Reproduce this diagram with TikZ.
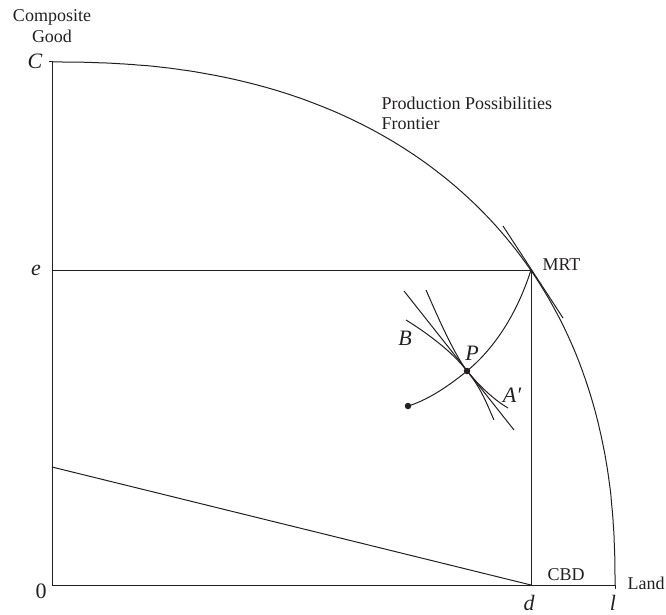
\documentclass[tikz,border=0pt]{standalone}
\usepackage{fontspec}
\setmainfont{Liberation Serif}
\definecolor{ink}{RGB}{35,31,32}
\begin{document}
\begin{tikzpicture}[x=1pt,y=-1pt,
  every path/.style={draw=ink, line width=1pt},
  lbl/.style={font=\fontsize{18}{20}\selectfont, inner sep=0pt, text=ink},
  mlbl/.style={font=\fontsize{22}{24}\selectfont\itshape, inner sep=0pt, text=ink},
  dotnode/.style={circle, fill=ink, draw=none, inner sep=0pt, minimum size=6.5pt}]
\useasboundingbox[draw=none] (0,0) rectangle (666,615);
% key points
\coordinate (O) at (52,585);
\coordinate (Ctop) at (52,62);
\coordinate (Ctick) at (49,62);
\coordinate (E) at (52,270);
\coordinate (M) at (531,270);
\coordinate (D) at (531,585);
\coordinate (L) at (615,585);
\coordinate (Ltick) at (615,589);
\coordinate (K) at (52,467);
\coordinate (T1) at (503,226);
\coordinate (T2) at (563,318);
\coordinate (S1) at (404,291);
\coordinate (S2) at (514,430);
\coordinate (U1) at (426,290);
\coordinate (U2) at (508,408);
\coordinate (V1) at (406,320);
\coordinate (V2) at (494,420);
\coordinate (Pp) at (467,371);
\coordinate (Qp) at (408,406);
% axes
\draw (Ctick) -- (Ctop) -- (O) -- (L) -- (Ltick);
% frontier
\draw (Ctop) -- plot[domain=89.99:0.01, samples=220] ({52+563*cos(\x)^0.87},{585-523*sin(\x)^0.87}) -- (L);
% rectangle lines
\draw (E) -- (M) -- (D);
\draw (K) -- (D);
\draw (T1) -- (T2);
% curve from MRT through P
\draw (M) .. controls (515,320) and (490,352) .. (Pp) .. controls (445,389) and (425,401) .. (Qp);
% tangency lines at P
\draw (S1) -- (S2);
\draw (U1) .. controls (434,308) and (452,351) .. (Pp) .. controls (482,389) and (496,401) .. (U2);
\draw (V1) .. controls (424,331) and (452,351) .. (Pp) .. controls (482,389) and (488,407) .. (V2);
% dots
\node[dotnode] (P) at (Pp) {};
\node[dotnode] (Q) at (Qp) {};
% labels
\node[lbl, anchor=base] (cg1) at (52,22) {Composite};
\node[lbl, anchor=base] (cg2) at (52,43) {Good};
\node[mlbl] (cl) at (35,61) {C};
\node[mlbl] (el) at (36,270) {e};
\node[mlbl, font=\fontsize{22}{24}\selectfont] (zero) at (41,591) {0};
\node[mlbl] (dl) at (529,603) {d};
\node[mlbl] (ll) at (613,603) {l};
\node[lbl, anchor=base] (cbd) at (566,580) {CBD};
\node[lbl, anchor=base] (land) at (646,589) {Land};
\node[lbl, anchor=base west] (mrt) at (542,270) {MRT};
\node[lbl, anchor=base west] (ppf1) at (381,110) {Production Possibilities};
\node[lbl, anchor=base west] (ppf2) at (381,129) {Frontier};
\node[mlbl] (bl) at (405,338) {B};
\node[mlbl] (pl) at (472,353) {P};
\node[mlbl] (al) at (512,395) {A′};
\end{tikzpicture}
\end{document}
